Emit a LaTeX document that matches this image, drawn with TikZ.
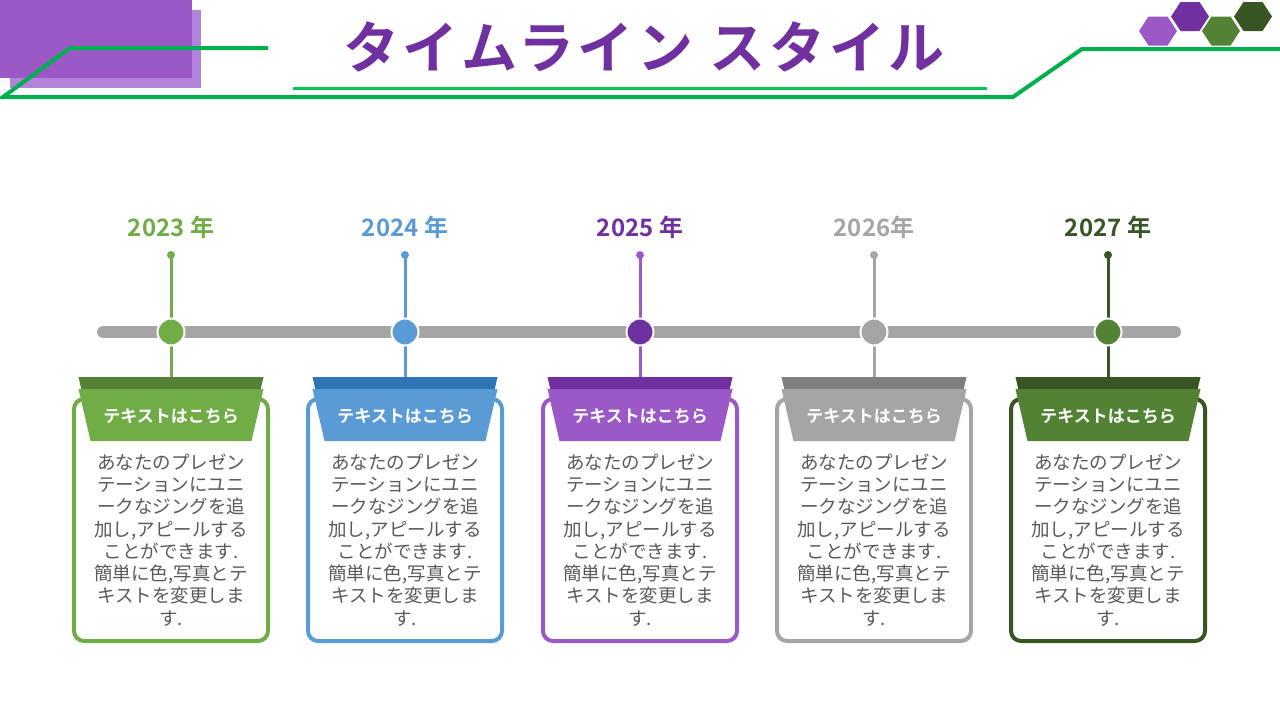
\documentclass[tikz,border=0pt]{standalone}
\usepackage{fontspec}
\setmainfont{Noto Sans CJK JP}[BoldFont={* Bold}]
\newfontfamily\titlefont{Noto Sans CJK JP Bold}[LetterSpace=6.5]
\definecolor{lineGreen}{HTML}{00B050}
\definecolor{ruleGreen}{HTML}{00C853}
\definecolor{barGray}{HTML}{A5A5A5}
\definecolor{bodyGray}{HTML}{595959}
\definecolor{accGreen}{HTML}{70AD47}
\definecolor{accGreenDark}{HTML}{548235}
\definecolor{accGreenDeep}{HTML}{375623}
\definecolor{accBlue}{HTML}{5B9BD5}
\definecolor{accBlueDark}{HTML}{2E75B6}
\definecolor{accPurple}{HTML}{9B59C8}
\definecolor{accPurpleDark}{HTML}{7030A0}
\definecolor{accPurpleLight}{HTML}{B283DB}
\definecolor{accGray}{HTML}{A5A5A5}
\definecolor{accGrayDark}{HTML}{7F7F7F}

\tikzset{
  yearlabel/.style = {inner sep=0pt, font=\fontsize{24}{28}\selectfont\bfseries},
  pindot/.style = {circle, inner sep=0pt, minimum size=8pt},
  stem/.style = {line width=3pt},
  milestone/.style = {circle, inner sep=0pt, minimum size=27pt, draw=white, line width=2pt},
  cardbox/.style = {rectangle, rounded corners=10pt, line width=4pt, fill=white,
                    minimum width=194pt, minimum height=242pt},
  headtext/.style = {inner sep=0pt, text=white, font=\fontsize{17}{20}\selectfont\bfseries},
  bodytext/.style = {inner sep=0pt, align=center, text=bodyGray, font=\fontsize{18.5}{22.3}\selectfont},
  hexcell/.pic = {\fill[pic actions] (-19,0) -- (-9.5,-14.5) -- (9.5,-14.5) -- (19,0)
                  -- (9.5,14.5) -- (-9.5,14.5) -- cycle;}
}

% #1 x, #2 name, #3 year, #4 year colour, #5 card colour,
% #6 header colour, #7 header shade, #8 milestone colour
\newcommand{\yearcard}[8]{%
  \node[yearlabel, text=#4] (year#2) at (#1, 227) {#3};
  \node[pindot, fill=#5] (pin#2) at (#1, 255) {};
  \coordinate (top#2) at (#1, 377);
  \draw[stem, #5] (pin#2.center) -- (top#2);
  \node[milestone, fill=#8] (mark#2) at (#1, 332) {};
  \node[cardbox, draw=#5] (card#2) at (#1, 520) {};
  \fill[#7] ({#1-92.5}, 377) -- ({#1+92.5}, 377) -- ({#1+80.5}, 429) -- ({#1-80.5}, 429) -- cycle;
  \fill[#6] ({#1-92.5}, 389) -- ({#1+92.5}, 389) -- ({#1+80.5}, 441) -- ({#1-80.5}, 441) -- cycle;
  \node[headtext] (head#2) at (#1, 416) {テキストはこちら};
  \node[bodytext] (body#2) at (#1, 540) {あなたのプレゼン\\テーションにユニ\\ークなジングを追\\加し,アピールする\\ことができます.\\簡単に色,写真とテ\\キストを変更しま\\す.};
}

\begin{document}
\begin{tikzpicture}[x=1pt, y=-1pt]
\useasboundingbox (0,0) rectangle (1280,720);

% header decoration
\fill[accPurpleLight] (10,10) rectangle (201,88);
\fill[accPurple] (0,0) rectangle (192,78);
\draw[lineGreen, line width=4pt, line join=miter] (268,48) -- (70,48) -- (3,97) -- (1013,97) -- (1082,49) -- (1280,49);
\node[inner sep=0pt, text=accPurpleDark, font=\fontsize{56}{60}\selectfont\titlefont] (title) at (644,47) {タイムライン スタイル};
\coordinate (ruleL) at (293,88);
\coordinate (ruleR) at (987,88);
\draw[ruleGreen, line width=3pt] (ruleL) -- (ruleR);

\pic[fill=accPurple] at (1158,31) {hexcell};
\pic[fill=accPurpleDark] at (1190,16.5) {hexcell};
\pic[fill=accGreenDark] at (1221,31) {hexcell};
\pic[fill=accGreenDeep] at (1253,16.5) {hexcell};

% timeline bar
\coordinate (barL) at (103,332);
\coordinate (barR) at (1175,332);
\draw[barGray, line width=12pt, line cap=round] (barL) -- (barR);

\yearcard{171}{A}{2023 年}{accGreen}{accGreen}{accGreen}{accGreenDark}{accGreen}
\yearcard{405}{B}{2024 年}{accBlue}{accBlue}{accBlue}{accBlueDark}{accBlue}
\yearcard{640}{C}{2025 年}{accPurpleDark}{accPurple}{accPurple}{accPurpleDark}{accPurpleDark}
\yearcard{874}{D}{2026年}{accGray}{accGray}{accGray}{accGrayDark}{accGray}
\yearcard{1108}{E}{2027 年}{accGreenDeep}{accGreenDeep}{accGreenDark}{accGreenDeep}{accGreenDark}

\end{tikzpicture}
\end{document}
